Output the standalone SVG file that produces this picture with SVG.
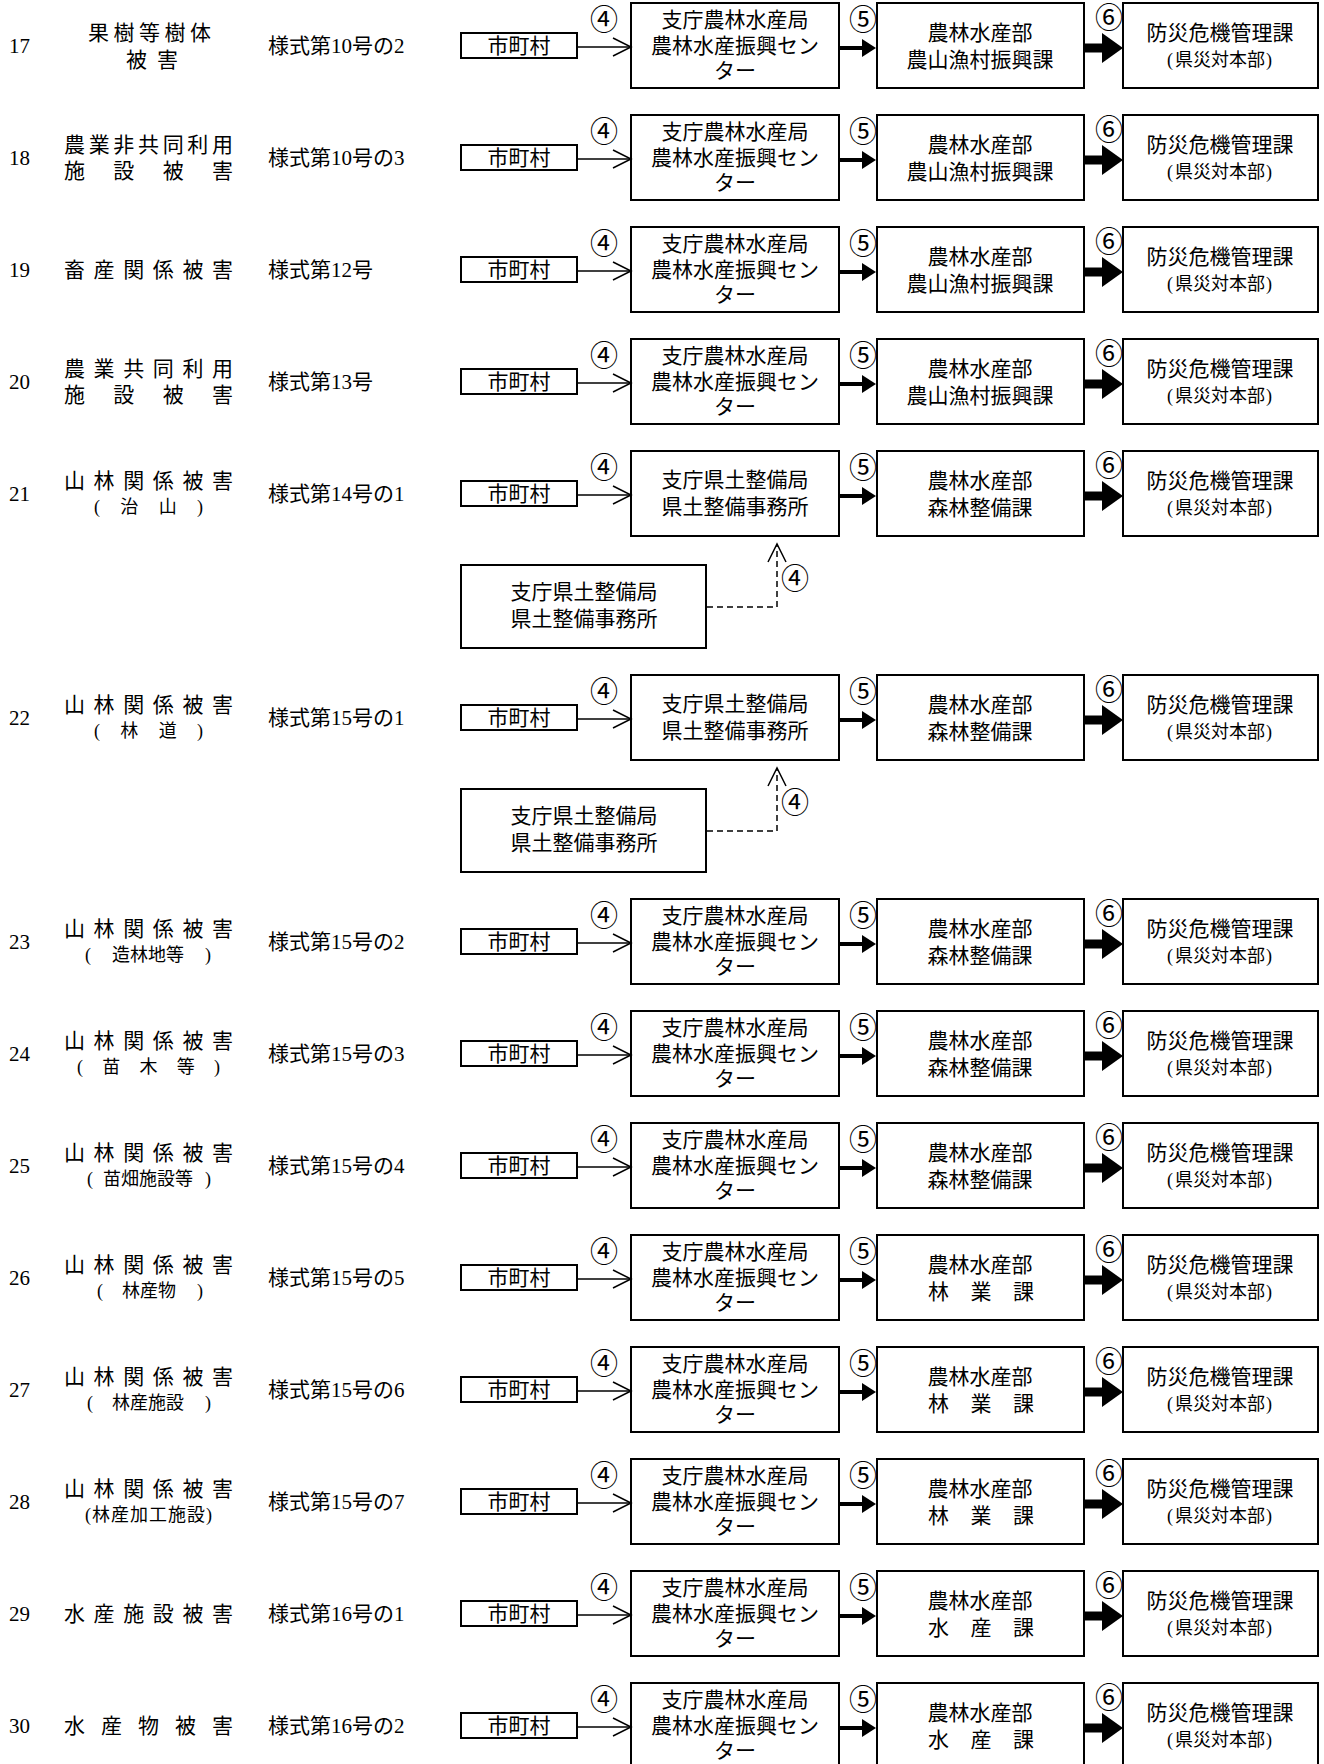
<svg xmlns="http://www.w3.org/2000/svg" width="1324" height="1764" viewBox="0 0 1324 1764">
<style>
text{font-family:"Liberation Serif","Noto Sans CJK JP",serif;font-size:21px;fill:#000;dominant-baseline:central}
.c{text-anchor:middle}
.s{font-size:18px}
.k{font-size:18px}
.n{font-size:28px}
.box{fill:#fff;stroke:#000;stroke-width:2}
.thin{stroke:#000;stroke-width:1.5;fill:none}
.a5{stroke:#000;stroke-width:4;fill:none}
.a6{stroke:#000;stroke-width:9;fill:none}
.dash{stroke:#000;stroke-width:1.5;fill:none;stroke-dasharray:6 4}
</style>
<defs>
<marker id="open" markerUnits="userSpaceOnUse" markerWidth="40" markerHeight="40" viewBox="-20 -20 40 40" refX="0" refY="0" orient="auto" overflow="visible"><path d="M-18,-9 L0,0 L-18,9" fill="none" stroke="#000" stroke-width="1.5"/></marker>
<marker id="tri5" markerUnits="userSpaceOnUse" markerWidth="40" markerHeight="40" viewBox="-20 -20 40 40" refX="0" refY="0" orient="auto" overflow="visible"><path d="M0,-9 L14,0 L0,9 Z" fill="#000"/></marker>
<marker id="tri6" markerUnits="userSpaceOnUse" markerWidth="40" markerHeight="40" viewBox="-20 -20 40 40" refX="0" refY="0" orient="auto" overflow="visible"><path d="M0,-15 L21,0 L0,15 Z" fill="#000"/></marker>
</defs>
<rect width="1324" height="1764" fill="#fff"/>

<!-- Row 17 -->
<g id="row17" transform="translate(0,46)">
 <g id="r17-label"><text x="9" y="0">17</text><text x="88" y="-13" textLength="123" lengthAdjust="spacing">果樹等樹体</text><text x="126" y="14" textLength="52" lengthAdjust="spacing">被害</text><text x="268" y="0">様式第10号の2</text></g>
 <g id="r17-city"><rect class="box" x="461" y="-13" width="116" height="25"/><text class="c" x="519" y="0">市町村</text></g>
 <g id="r17-branch"><rect class="box" x="631" y="-43" width="208" height="85"/><text class="c" x="735" y="-26">支庁農林水産局</text><text class="c" x="735" y="0">農林水産振興セン</text><text class="c" x="735" y="25">ター</text></g>
 <g id="r17-dept"><rect class="box" x="877" y="-43" width="207" height="85"/><text class="c" x="980" y="-13">農林水産部</text><text class="c" x="980" y="14">農山漁村振興課</text></g>
 <g id="r17-hq"><rect class="box" x="1123" y="-43" width="195" height="85"/><text class="c" x="1220" y="-13">防災危機管理課</text><text class="k" x="1167" y="14">(</text><text class="c k" x="1220" y="14">県災対本部</text><text class="k" x="1266" y="14">)</text></g>
</g>

<!-- Row 18 -->
<g id="row18" transform="translate(0,158)">
 <g id="r18-label"><text x="9" y="0">18</text><text x="64" y="-13" textLength="169" lengthAdjust="spacing">農業非共同利用</text><text x="64" y="13" textLength="169" lengthAdjust="spacing">施設被害</text><text x="268" y="0">様式第10号の3</text></g>
 <g id="r18-city"><rect class="box" x="461" y="-13" width="116" height="25"/><text class="c" x="519" y="0">市町村</text></g>
 <g id="r18-branch"><rect class="box" x="631" y="-43" width="208" height="85"/><text class="c" x="735" y="-26">支庁農林水産局</text><text class="c" x="735" y="0">農林水産振興セン</text><text class="c" x="735" y="25">ター</text></g>
 <g id="r18-dept"><rect class="box" x="877" y="-43" width="207" height="85"/><text class="c" x="980" y="-13">農林水産部</text><text class="c" x="980" y="14">農山漁村振興課</text></g>
 <g id="r18-hq"><rect class="box" x="1123" y="-43" width="195" height="85"/><text class="c" x="1220" y="-13">防災危機管理課</text><text class="k" x="1167" y="14">(</text><text class="c k" x="1220" y="14">県災対本部</text><text class="k" x="1266" y="14">)</text></g>
</g>

<!-- Row 19 -->
<g id="row19" transform="translate(0,270)">
 <g id="r19-label"><text x="9" y="0">19</text><text x="64" y="0" textLength="169" lengthAdjust="spacing">畜産関係被害</text><text x="268" y="0">様式第12号</text></g>
 <g id="r19-city"><rect class="box" x="461" y="-13" width="116" height="25"/><text class="c" x="519" y="0">市町村</text></g>
 <g id="r19-branch"><rect class="box" x="631" y="-43" width="208" height="85"/><text class="c" x="735" y="-26">支庁農林水産局</text><text class="c" x="735" y="0">農林水産振興セン</text><text class="c" x="735" y="25">ター</text></g>
 <g id="r19-dept"><rect class="box" x="877" y="-43" width="207" height="85"/><text class="c" x="980" y="-13">農林水産部</text><text class="c" x="980" y="14">農山漁村振興課</text></g>
 <g id="r19-hq"><rect class="box" x="1123" y="-43" width="195" height="85"/><text class="c" x="1220" y="-13">防災危機管理課</text><text class="k" x="1167" y="14">(</text><text class="c k" x="1220" y="14">県災対本部</text><text class="k" x="1266" y="14">)</text></g>
</g>

<!-- Row 20 -->
<g id="row20" transform="translate(0,382)">
 <g id="r20-label"><text x="9" y="0">20</text><text x="64" y="-13" textLength="169" lengthAdjust="spacing">農業共同利用</text><text x="64" y="13" textLength="169" lengthAdjust="spacing">施設被害</text><text x="268" y="0">様式第13号</text></g>
 <g id="r20-city"><rect class="box" x="461" y="-13" width="116" height="25"/><text class="c" x="519" y="0">市町村</text></g>
 <g id="r20-branch"><rect class="box" x="631" y="-43" width="208" height="85"/><text class="c" x="735" y="-26">支庁農林水産局</text><text class="c" x="735" y="0">農林水産振興セン</text><text class="c" x="735" y="25">ター</text></g>
 <g id="r20-dept"><rect class="box" x="877" y="-43" width="207" height="85"/><text class="c" x="980" y="-13">農林水産部</text><text class="c" x="980" y="14">農山漁村振興課</text></g>
 <g id="r20-hq"><rect class="box" x="1123" y="-43" width="195" height="85"/><text class="c" x="1220" y="-13">防災危機管理課</text><text class="k" x="1167" y="14">(</text><text class="c k" x="1220" y="14">県災対本部</text><text class="k" x="1266" y="14">)</text></g>
</g>

<!-- Row 21 -->
<g id="row21" transform="translate(0,494)">
 <g id="r21-label"><text x="9" y="0">21</text><text x="64" y="-13" textLength="169" lengthAdjust="spacing">山林関係被害</text><text class="s" x="94" y="13" textLength="109" lengthAdjust="spacing">(治山)</text><text x="268" y="0">様式第14号の1</text></g>
 <g id="r21-city"><rect class="box" x="461" y="-13" width="116" height="25"/><text class="c" x="519" y="0">市町村</text></g>
 <g id="r21-branch"><rect class="box" x="631" y="-43" width="208" height="85"/><text class="c" x="735" y="-14">支庁県土整備局</text><text class="c" x="735" y="13">県土整備事務所</text></g>
 <g id="r21-dept"><rect class="box" x="877" y="-43" width="207" height="85"/><text class="c" x="980" y="-13">農林水産部</text><text class="c" x="980" y="14">森林整備課</text></g>
 <g id="r21-hq"><rect class="box" x="1123" y="-43" width="195" height="85"/><text class="c" x="1220" y="-13">防災危機管理課</text><text class="k" x="1167" y="14">(</text><text class="c k" x="1220" y="14">県災対本部</text><text class="k" x="1266" y="14">)</text></g>
 <g id="r21-sub"><rect class="box" x="461" y="71" width="245" height="83"/><text class="c" x="584" y="98">支庁県土整備局</text><text class="c" x="584" y="125">県土整備事務所</text></g>
</g>

<!-- Row 22 -->
<g id="row22" transform="translate(0,718)">
 <g id="r22-label"><text x="9" y="0">22</text><text x="64" y="-13" textLength="169" lengthAdjust="spacing">山林関係被害</text><text class="s" x="94" y="13" textLength="109" lengthAdjust="spacing">(林道)</text><text x="268" y="0">様式第15号の1</text></g>
 <g id="r22-city"><rect class="box" x="461" y="-13" width="116" height="25"/><text class="c" x="519" y="0">市町村</text></g>
 <g id="r22-branch"><rect class="box" x="631" y="-43" width="208" height="85"/><text class="c" x="735" y="-14">支庁県土整備局</text><text class="c" x="735" y="13">県土整備事務所</text></g>
 <g id="r22-dept"><rect class="box" x="877" y="-43" width="207" height="85"/><text class="c" x="980" y="-13">農林水産部</text><text class="c" x="980" y="14">森林整備課</text></g>
 <g id="r22-hq"><rect class="box" x="1123" y="-43" width="195" height="85"/><text class="c" x="1220" y="-13">防災危機管理課</text><text class="k" x="1167" y="14">(</text><text class="c k" x="1220" y="14">県災対本部</text><text class="k" x="1266" y="14">)</text></g>
 <g id="r22-sub"><rect class="box" x="461" y="71" width="245" height="83"/><text class="c" x="584" y="98">支庁県土整備局</text><text class="c" x="584" y="125">県土整備事務所</text></g>
</g>

<!-- Row 23 -->
<g id="row23" transform="translate(0,942)">
 <g id="r23-label"><text x="9" y="0">23</text><text x="64" y="-13" textLength="169" lengthAdjust="spacing">山林関係被害</text><text class="s" x="85" y="13">(</text><text class="s" x="112" y="13">造林地等</text><text class="s" x="205" y="13">)</text><text x="268" y="0">様式第15号の2</text></g>
 <g id="r23-city"><rect class="box" x="461" y="-13" width="116" height="25"/><text class="c" x="519" y="0">市町村</text></g>
 <g id="r23-branch"><rect class="box" x="631" y="-43" width="208" height="85"/><text class="c" x="735" y="-26">支庁農林水産局</text><text class="c" x="735" y="0">農林水産振興セン</text><text class="c" x="735" y="25">ター</text></g>
 <g id="r23-dept"><rect class="box" x="877" y="-43" width="207" height="85"/><text class="c" x="980" y="-13">農林水産部</text><text class="c" x="980" y="14">森林整備課</text></g>
 <g id="r23-hq"><rect class="box" x="1123" y="-43" width="195" height="85"/><text class="c" x="1220" y="-13">防災危機管理課</text><text class="k" x="1167" y="14">(</text><text class="c k" x="1220" y="14">県災対本部</text><text class="k" x="1266" y="14">)</text></g>
</g>

<!-- Row 24 -->
<g id="row24" transform="translate(0,1054)">
 <g id="r24-label"><text x="9" y="0">24</text><text x="64" y="-13" textLength="169" lengthAdjust="spacing">山林関係被害</text><text class="s" x="77" y="13" textLength="143" lengthAdjust="spacing">(苗木等)</text><text x="268" y="0">様式第15号の3</text></g>
 <g id="r24-city"><rect class="box" x="461" y="-13" width="116" height="25"/><text class="c" x="519" y="0">市町村</text></g>
 <g id="r24-branch"><rect class="box" x="631" y="-43" width="208" height="85"/><text class="c" x="735" y="-26">支庁農林水産局</text><text class="c" x="735" y="0">農林水産振興セン</text><text class="c" x="735" y="25">ター</text></g>
 <g id="r24-dept"><rect class="box" x="877" y="-43" width="207" height="85"/><text class="c" x="980" y="-13">農林水産部</text><text class="c" x="980" y="14">森林整備課</text></g>
 <g id="r24-hq"><rect class="box" x="1123" y="-43" width="195" height="85"/><text class="c" x="1220" y="-13">防災危機管理課</text><text class="k" x="1167" y="14">(</text><text class="c k" x="1220" y="14">県災対本部</text><text class="k" x="1266" y="14">)</text></g>
</g>

<!-- Row 25 -->
<g id="row25" transform="translate(0,1166)">
 <g id="r25-label"><text x="9" y="0">25</text><text x="64" y="-13" textLength="169" lengthAdjust="spacing">山林関係被害</text><text class="s" x="87" y="13">(</text><text class="s" x="103" y="13">苗畑施設等</text><text class="s" x="205" y="13">)</text><text x="268" y="0">様式第15号の4</text></g>
 <g id="r25-city"><rect class="box" x="461" y="-13" width="116" height="25"/><text class="c" x="519" y="0">市町村</text></g>
 <g id="r25-branch"><rect class="box" x="631" y="-43" width="208" height="85"/><text class="c" x="735" y="-26">支庁農林水産局</text><text class="c" x="735" y="0">農林水産振興セン</text><text class="c" x="735" y="25">ター</text></g>
 <g id="r25-dept"><rect class="box" x="877" y="-43" width="207" height="85"/><text class="c" x="980" y="-13">農林水産部</text><text class="c" x="980" y="14">森林整備課</text></g>
 <g id="r25-hq"><rect class="box" x="1123" y="-43" width="195" height="85"/><text class="c" x="1220" y="-13">防災危機管理課</text><text class="k" x="1167" y="14">(</text><text class="c k" x="1220" y="14">県災対本部</text><text class="k" x="1266" y="14">)</text></g>
</g>

<!-- Row 26 -->
<g id="row26" transform="translate(0,1278)">
 <g id="r26-label"><text x="9" y="0">26</text><text x="64" y="-13" textLength="169" lengthAdjust="spacing">山林関係被害</text><text class="s" x="97" y="13">(</text><text class="s" x="122" y="13">林産物</text><text class="s" x="197" y="13">)</text><text x="268" y="0">様式第15号の5</text></g>
 <g id="r26-city"><rect class="box" x="461" y="-13" width="116" height="25"/><text class="c" x="519" y="0">市町村</text></g>
 <g id="r26-branch"><rect class="box" x="631" y="-43" width="208" height="85"/><text class="c" x="735" y="-26">支庁農林水産局</text><text class="c" x="735" y="0">農林水産振興セン</text><text class="c" x="735" y="25">ター</text></g>
 <g id="r26-dept"><rect class="box" x="877" y="-43" width="207" height="85"/><text class="c" x="980" y="-13">農林水産部</text><text x="928" y="14" textLength="106" lengthAdjust="spacing">林業課</text></g>
 <g id="r26-hq"><rect class="box" x="1123" y="-43" width="195" height="85"/><text class="c" x="1220" y="-13">防災危機管理課</text><text class="k" x="1167" y="14">(</text><text class="c k" x="1220" y="14">県災対本部</text><text class="k" x="1266" y="14">)</text></g>
</g>

<!-- Row 27 -->
<g id="row27" transform="translate(0,1390)">
 <g id="r27-label"><text x="9" y="0">27</text><text x="64" y="-13" textLength="169" lengthAdjust="spacing">山林関係被害</text><text class="s" x="87" y="13">(</text><text class="s" x="112" y="13">林産施設</text><text class="s" x="205" y="13">)</text><text x="268" y="0">様式第15号の6</text></g>
 <g id="r27-city"><rect class="box" x="461" y="-13" width="116" height="25"/><text class="c" x="519" y="0">市町村</text></g>
 <g id="r27-branch"><rect class="box" x="631" y="-43" width="208" height="85"/><text class="c" x="735" y="-26">支庁農林水産局</text><text class="c" x="735" y="0">農林水産振興セン</text><text class="c" x="735" y="25">ター</text></g>
 <g id="r27-dept"><rect class="box" x="877" y="-43" width="207" height="85"/><text class="c" x="980" y="-13">農林水産部</text><text x="928" y="14" textLength="106" lengthAdjust="spacing">林業課</text></g>
 <g id="r27-hq"><rect class="box" x="1123" y="-43" width="195" height="85"/><text class="c" x="1220" y="-13">防災危機管理課</text><text class="k" x="1167" y="14">(</text><text class="c k" x="1220" y="14">県災対本部</text><text class="k" x="1266" y="14">)</text></g>
</g>

<!-- Row 28 -->
<g id="row28" transform="translate(0,1502)">
 <g id="r28-label"><text x="9" y="0">28</text><text x="64" y="-13" textLength="169" lengthAdjust="spacing">山林関係被害</text><text class="s" x="85" y="13" textLength="127" lengthAdjust="spacing">(林産加工施設)</text><text x="268" y="0">様式第15号の7</text></g>
 <g id="r28-city"><rect class="box" x="461" y="-13" width="116" height="25"/><text class="c" x="519" y="0">市町村</text></g>
 <g id="r28-branch"><rect class="box" x="631" y="-43" width="208" height="85"/><text class="c" x="735" y="-26">支庁農林水産局</text><text class="c" x="735" y="0">農林水産振興セン</text><text class="c" x="735" y="25">ター</text></g>
 <g id="r28-dept"><rect class="box" x="877" y="-43" width="207" height="85"/><text class="c" x="980" y="-13">農林水産部</text><text x="928" y="14" textLength="106" lengthAdjust="spacing">林業課</text></g>
 <g id="r28-hq"><rect class="box" x="1123" y="-43" width="195" height="85"/><text class="c" x="1220" y="-13">防災危機管理課</text><text class="k" x="1167" y="14">(</text><text class="c k" x="1220" y="14">県災対本部</text><text class="k" x="1266" y="14">)</text></g>
</g>

<!-- Row 29 -->
<g id="row29" transform="translate(0,1614)">
 <g id="r29-label"><text x="9" y="0">29</text><text x="64" y="0" textLength="169" lengthAdjust="spacing">水産施設被害</text><text x="268" y="0">様式第16号の1</text></g>
 <g id="r29-city"><rect class="box" x="461" y="-13" width="116" height="25"/><text class="c" x="519" y="0">市町村</text></g>
 <g id="r29-branch"><rect class="box" x="631" y="-43" width="208" height="85"/><text class="c" x="735" y="-26">支庁農林水産局</text><text class="c" x="735" y="0">農林水産振興セン</text><text class="c" x="735" y="25">ター</text></g>
 <g id="r29-dept"><rect class="box" x="877" y="-43" width="207" height="85"/><text class="c" x="980" y="-13">農林水産部</text><text x="928" y="14" textLength="106" lengthAdjust="spacing">水産課</text></g>
 <g id="r29-hq"><rect class="box" x="1123" y="-43" width="195" height="85"/><text class="c" x="1220" y="-13">防災危機管理課</text><text class="k" x="1167" y="14">(</text><text class="c k" x="1220" y="14">県災対本部</text><text class="k" x="1266" y="14">)</text></g>
</g>

<!-- Row 30 -->
<g id="row30" transform="translate(0,1726)">
 <g id="r30-label"><text x="9" y="0">30</text><text x="64" y="0" textLength="169" lengthAdjust="spacing">水産物被害</text><text x="268" y="0">様式第16号の2</text></g>
 <g id="r30-city"><rect class="box" x="461" y="-13" width="116" height="25"/><text class="c" x="519" y="0">市町村</text></g>
 <g id="r30-branch"><rect class="box" x="631" y="-43" width="208" height="85"/><text class="c" x="735" y="-26">支庁農林水産局</text><text class="c" x="735" y="0">農林水産振興セン</text><text class="c" x="735" y="25">ター</text></g>
 <g id="r30-dept"><rect class="box" x="877" y="-43" width="207" height="85"/><text class="c" x="980" y="-13">農林水産部</text><text x="928" y="14" textLength="106" lengthAdjust="spacing">水産課</text></g>
 <g id="r30-hq"><rect class="box" x="1123" y="-43" width="195" height="85"/><text class="c" x="1220" y="-13">防災危機管理課</text><text class="k" x="1167" y="14">(</text><text class="c k" x="1220" y="14">県災対本部</text><text class="k" x="1266" y="14">)</text></g>
</g>

<g id="connectors">
 <g id="c17" transform="translate(0,46)"><line class="thin" x1="578" y1="1" x2="631" y2="1" marker-end="url(#open)"/><line class="a5" x1="840" y1="2" x2="862" y2="2" marker-end="url(#tri5)"/><line class="a6" x1="1085" y1="2" x2="1102" y2="2" marker-end="url(#tri6)"/><text class="c n" x="604" y="-26">④</text><text class="c n" x="863" y="-26">⑤</text><text class="c n" x="1109" y="-28">⑥</text></g>
 <g id="c18" transform="translate(0,158)"><line class="thin" x1="578" y1="1" x2="631" y2="1" marker-end="url(#open)"/><line class="a5" x1="840" y1="2" x2="862" y2="2" marker-end="url(#tri5)"/><line class="a6" x1="1085" y1="2" x2="1102" y2="2" marker-end="url(#tri6)"/><text class="c n" x="604" y="-26">④</text><text class="c n" x="863" y="-26">⑤</text><text class="c n" x="1109" y="-28">⑥</text></g>
 <g id="c19" transform="translate(0,270)"><line class="thin" x1="578" y1="1" x2="631" y2="1" marker-end="url(#open)"/><line class="a5" x1="840" y1="2" x2="862" y2="2" marker-end="url(#tri5)"/><line class="a6" x1="1085" y1="2" x2="1102" y2="2" marker-end="url(#tri6)"/><text class="c n" x="604" y="-26">④</text><text class="c n" x="863" y="-26">⑤</text><text class="c n" x="1109" y="-28">⑥</text></g>
 <g id="c20" transform="translate(0,382)"><line class="thin" x1="578" y1="1" x2="631" y2="1" marker-end="url(#open)"/><line class="a5" x1="840" y1="2" x2="862" y2="2" marker-end="url(#tri5)"/><line class="a6" x1="1085" y1="2" x2="1102" y2="2" marker-end="url(#tri6)"/><text class="c n" x="604" y="-26">④</text><text class="c n" x="863" y="-26">⑤</text><text class="c n" x="1109" y="-28">⑥</text></g>
 <g id="c21" transform="translate(0,494)"><line class="thin" x1="578" y1="1" x2="631" y2="1" marker-end="url(#open)"/><line class="a5" x1="840" y1="2" x2="862" y2="2" marker-end="url(#tri5)"/><line class="a6" x1="1085" y1="2" x2="1102" y2="2" marker-end="url(#tri6)"/><text class="c n" x="604" y="-26">④</text><text class="c n" x="863" y="-26">⑤</text><text class="c n" x="1109" y="-28">⑥</text><path class="dash" d="M707,113 H777 V50" marker-end="url(#open)"/><text class="c n" x="795" y="85">④</text></g>
 <g id="c22" transform="translate(0,718)"><line class="thin" x1="578" y1="1" x2="631" y2="1" marker-end="url(#open)"/><line class="a5" x1="840" y1="2" x2="862" y2="2" marker-end="url(#tri5)"/><line class="a6" x1="1085" y1="2" x2="1102" y2="2" marker-end="url(#tri6)"/><text class="c n" x="604" y="-26">④</text><text class="c n" x="863" y="-26">⑤</text><text class="c n" x="1109" y="-28">⑥</text><path class="dash" d="M707,113 H777 V50" marker-end="url(#open)"/><text class="c n" x="795" y="85">④</text></g>
 <g id="c23" transform="translate(0,942)"><line class="thin" x1="578" y1="1" x2="631" y2="1" marker-end="url(#open)"/><line class="a5" x1="840" y1="2" x2="862" y2="2" marker-end="url(#tri5)"/><line class="a6" x1="1085" y1="2" x2="1102" y2="2" marker-end="url(#tri6)"/><text class="c n" x="604" y="-26">④</text><text class="c n" x="863" y="-26">⑤</text><text class="c n" x="1109" y="-28">⑥</text></g>
 <g id="c24" transform="translate(0,1054)"><line class="thin" x1="578" y1="1" x2="631" y2="1" marker-end="url(#open)"/><line class="a5" x1="840" y1="2" x2="862" y2="2" marker-end="url(#tri5)"/><line class="a6" x1="1085" y1="2" x2="1102" y2="2" marker-end="url(#tri6)"/><text class="c n" x="604" y="-26">④</text><text class="c n" x="863" y="-26">⑤</text><text class="c n" x="1109" y="-28">⑥</text></g>
 <g id="c25" transform="translate(0,1166)"><line class="thin" x1="578" y1="1" x2="631" y2="1" marker-end="url(#open)"/><line class="a5" x1="840" y1="2" x2="862" y2="2" marker-end="url(#tri5)"/><line class="a6" x1="1085" y1="2" x2="1102" y2="2" marker-end="url(#tri6)"/><text class="c n" x="604" y="-26">④</text><text class="c n" x="863" y="-26">⑤</text><text class="c n" x="1109" y="-28">⑥</text></g>
 <g id="c26" transform="translate(0,1278)"><line class="thin" x1="578" y1="1" x2="631" y2="1" marker-end="url(#open)"/><line class="a5" x1="840" y1="2" x2="862" y2="2" marker-end="url(#tri5)"/><line class="a6" x1="1085" y1="2" x2="1102" y2="2" marker-end="url(#tri6)"/><text class="c n" x="604" y="-26">④</text><text class="c n" x="863" y="-26">⑤</text><text class="c n" x="1109" y="-28">⑥</text></g>
 <g id="c27" transform="translate(0,1390)"><line class="thin" x1="578" y1="1" x2="631" y2="1" marker-end="url(#open)"/><line class="a5" x1="840" y1="2" x2="862" y2="2" marker-end="url(#tri5)"/><line class="a6" x1="1085" y1="2" x2="1102" y2="2" marker-end="url(#tri6)"/><text class="c n" x="604" y="-26">④</text><text class="c n" x="863" y="-26">⑤</text><text class="c n" x="1109" y="-28">⑥</text></g>
 <g id="c28" transform="translate(0,1502)"><line class="thin" x1="578" y1="1" x2="631" y2="1" marker-end="url(#open)"/><line class="a5" x1="840" y1="2" x2="862" y2="2" marker-end="url(#tri5)"/><line class="a6" x1="1085" y1="2" x2="1102" y2="2" marker-end="url(#tri6)"/><text class="c n" x="604" y="-26">④</text><text class="c n" x="863" y="-26">⑤</text><text class="c n" x="1109" y="-28">⑥</text></g>
 <g id="c29" transform="translate(0,1614)"><line class="thin" x1="578" y1="1" x2="631" y2="1" marker-end="url(#open)"/><line class="a5" x1="840" y1="2" x2="862" y2="2" marker-end="url(#tri5)"/><line class="a6" x1="1085" y1="2" x2="1102" y2="2" marker-end="url(#tri6)"/><text class="c n" x="604" y="-26">④</text><text class="c n" x="863" y="-26">⑤</text><text class="c n" x="1109" y="-28">⑥</text></g>
 <g id="c30" transform="translate(0,1726)"><line class="thin" x1="578" y1="1" x2="631" y2="1" marker-end="url(#open)"/><line class="a5" x1="840" y1="2" x2="862" y2="2" marker-end="url(#tri5)"/><line class="a6" x1="1085" y1="2" x2="1102" y2="2" marker-end="url(#tri6)"/><text class="c n" x="604" y="-26">④</text><text class="c n" x="863" y="-26">⑤</text><text class="c n" x="1109" y="-28">⑥</text></g>
</g>
</svg>
